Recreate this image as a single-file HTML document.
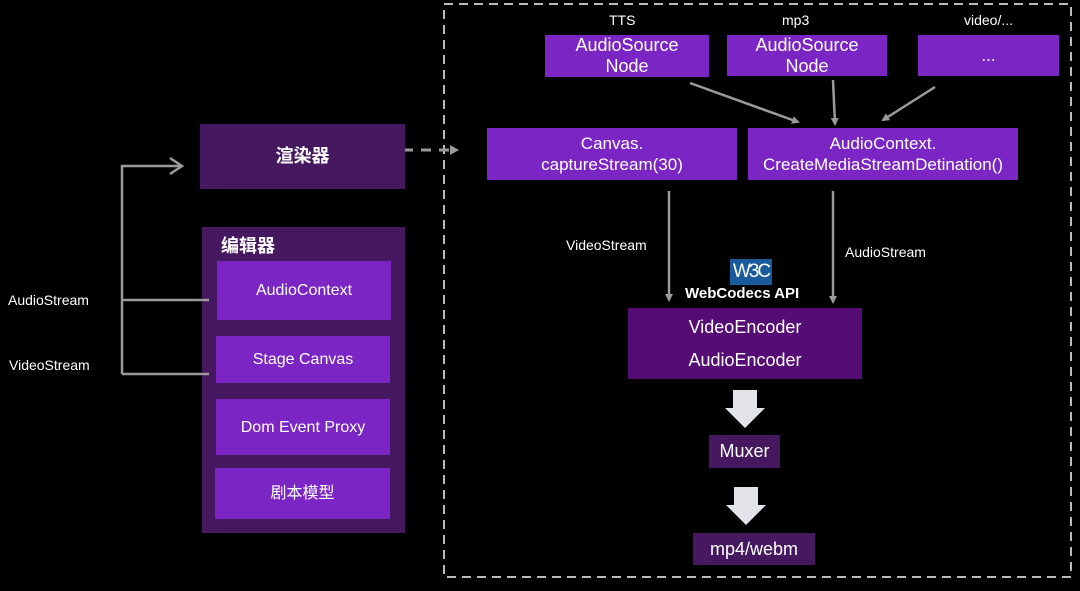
<!DOCTYPE html>
<html><head><meta charset="utf-8"><style>
body{margin:0;background:#000;width:1080px;height:591px;overflow:hidden;position:relative;font-family:"Liberation Sans","Noto Sans CJK SC",sans-serif;color:#fff}
.b{position:absolute;display:flex;align-items:center;justify-content:center;text-align:center;background:#7a25c4;font-size:17px;line-height:21px}
.d{background:#45185f}
.t{position:absolute;font-size:14px;white-space:nowrap}
svg{position:absolute;left:0;top:0}
</style></head><body>
<svg width="1080" height="591">
<defs>
<marker id="a" markerWidth="8" markerHeight="8" refX="6" refY="4" orient="auto" markerUnits="userSpaceOnUse"><path d="M0,0 L8,4 L0,8 z" fill="#9a9a9a"/></marker>
</defs>
<rect x="444" y="4" width="627" height="573" fill="none" stroke="#bbb" stroke-width="2" stroke-dasharray="9,6"/>
<line x1="385" y1="150" x2="452" y2="150" stroke="#999" stroke-width="3" stroke-dasharray="10,8"/>
<path d="M450,145 L459,150 L450,155z" fill="#999"/>
<g stroke="#9a9a9a" stroke-width="2.5" fill="none">
<line x1="690" y1="83" x2="798" y2="122" marker-end="url(#a)"/>
<line x1="833" y1="80" x2="835" y2="124" marker-end="url(#a)"/>
<line x1="935" y1="87" x2="883" y2="120" marker-end="url(#a)"/>
<line x1="669" y1="191" x2="669" y2="300" marker-end="url(#a)"/>
<line x1="833" y1="191" x2="833" y2="302" marker-end="url(#a)"/>
<path d="M122,374 V166 H180"/>
<path d="M170,158 L182,166 L170,174"/>
</g>
<path d="M733,390 H757 V408 H765 L745,428 L725,408 H733z" fill="#e2e4ea"/>
<path d="M734,487 H758 V505 H766 L746,525 L726,505 H734z" fill="#e2e4ea"/>
</svg>
<div class="t" style="left:609px;top:12px">TTS</div>
<div class="t" style="left:782px;top:12px">mp3</div>
<div class="t" style="left:964px;top:12px">video/...</div>
<div class="b" style="left:545px;top:35px;width:164px;height:42px;font-size:18px">AudioSource<br>Node</div>
<div class="b" style="left:727px;top:35px;width:160px;height:41px;font-size:18px">AudioSource<br>Node</div>
<div class="b" style="left:918px;top:35px;width:141px;height:41px">...</div>
<div class="b" style="left:487px;top:128px;width:250px;height:52px">Canvas.<br>captureStream(30)</div>
<div class="b" style="left:748px;top:128px;width:270px;height:52px">AudioContext.<br>CreateMediaStreamDetination()</div>
<div class="t" style="left:566px;top:237px">VideoStream</div>
<div class="t" style="left:845px;top:244px">AudioStream</div>
<div style="position:absolute;left:730px;top:259px;width:42px;height:26px;background:#1a5b9c;color:#fff;font:19px 'Liberation Sans',sans-serif;letter-spacing:-2px;text-align:center;line-height:26px">W3C</div>
<div class="t" style="left:685px;top:285px;font-size:15px;font-weight:bold">WebCodecs API</div>
<div class="b" style="left:628px;top:308px;width:234px;height:71px;background:#550c74;line-height:33px;font-size:18px">VideoEncoder<br>AudioEncoder</div>
<div class="b d" style="left:709px;top:435px;width:71px;height:33px;font-size:18px">Muxer</div>
<div class="b d" style="left:693px;top:533px;width:122px;height:32px;font-size:18px">mp4/webm</div>
<div class="b d" style="left:200px;top:124px;width:205px;height:65px;font-weight:bold;font-size:18px">渲染器</div>
<div class="b d" style="left:202px;top:227px;width:203px;height:306px"></div>
<div class="t" style="left:221px;top:232px;font-size:18px;font-weight:bold">编辑器</div>
<div class="b" style="left:217px;top:261px;width:174px;height:59px;font-size:16px">AudioContext</div>
<div class="b" style="left:216px;top:336px;width:174px;height:47px;font-size:16px">Stage Canvas</div>
<div class="b" style="left:216px;top:399px;width:174px;height:56px;font-size:16px">Dom Event Proxy</div>
<div class="b" style="left:215px;top:468px;width:175px;height:51px;font-size:16px">剧本模型</div>
<svg width="1080" height="591"><g stroke="#9a9a9a" stroke-width="2.5"><path d="M209,300 H122 M209,374 H122"/></g></svg>
<div class="t" style="left:8px;top:292px">AudioStream</div>
<div class="t" style="left:9px;top:357px">VideoStream</div>
</body></html>
